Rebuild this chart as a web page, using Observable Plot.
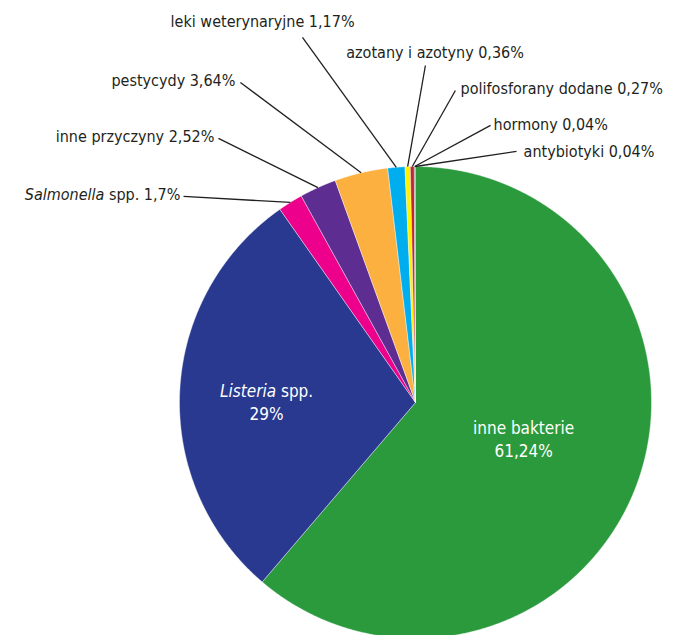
<!DOCTYPE html>
<html>
<head>
<meta charset="utf-8">
<script src="https://cdn.jsdelivr.net/npm/d3@7"></script>
<script src="https://cdn.jsdelivr.net/npm/@observablehq/plot@0.6"></script>
<style>
  html, body { margin: 0; padding: 0; background: #fff; }
  #chart svg { display: block; }
</style>
</head>
<body>
<div id="chart"></div>
<script>
// ---- data ----
const categories = ["inne bakterie", "Listeria spp.", "Salmonella spp.", "inne przyczyny", "pestycydy",
  "leki weterynaryjne", "azotany i azotyny", "polifosforany dodane", "hormony", "antybiotyki"];
const shares = [61.24, 29, 1.7, 2.52, 3.64, 1.17, 0.36, 0.27, 0.04, 0.04];
const valueLabels = ["61,24%", "29%", "1,7%", "2,52%", "3,64%", "1,17%", "0,36%", "0,27%", "0,04%", "0,04%"];
const labelTexts = ["inne bakterie\n61,24%", "*Listeria* spp.\n29%", "*Salmonella* spp. 1,7%", "inne przyczyny 2,52%",
  "pestycydy 3,64%", "leki weterynaryjne 1,17%", "azotany i azotyny 0,36%", "polifosforany dodane 0,27%",
  "hormony 0,04%", "antybiotyki 0,04%"];
const colors = ["#2b9a3d", "#28398f", "#ec008c", "#5d2d91", "#fbb040", "#00aeef", "#fff200", "#c1272d", "#231f20", "#231f20"];

// ---- layout (in pie-radius units, relative to the centre) ----
const W = 679, H = 635, CX = 415, CY = 402, R = 236;
const labelPos = [ // [textX, textY, anchor, lineX, lineY, inside]
  [0.458, -0.153, "middle", null, null, true],
  [-0.631, 0.004, "middle", null, null, true],
  [-0.996, 0.881, "end", -0.983, 0.873, false],
  [-0.852, 1.127, "end", -0.835, 1.119, false],
  [-0.763, 1.364, "end", -0.742, 1.356, false],
  [-0.648, 1.614, "middle", -0.479, 1.547, false],
  [0.083, 1.483, "middle", 0.042, 1.428, false],
  [0.191, 1.331, "start", 0.169, 1.322, false],
  [0.331, 1.178, "start", 0.318, 1.174, false],
  [0.458, 1.064, "start", 0.428, 1.064, false]
];

// ---- pie geometry from the values ----
const total = d3.sum(shares);
let acc = 0;
const slices = categories.map((c, i) => {
  const a0 = acc / total * 2 * Math.PI;
  acc += shares[i];
  const a1 = acc / total * 2 * Math.PI;
  return {name: c, a0, a1, mid: (a0 + a1) / 2};
});
const polyPts = [];
for (const s of slices) {
  polyPts.push({name: s.name, x: 0, y: 0});
  const n = Math.max(2, Math.ceil((s.a1 - s.a0) / (0.25 * Math.PI / 180)));
  for (let k = 0; k <= n; k++) {
    const a = s.a0 + (s.a1 - s.a0) * k / n;
    polyPts.push({name: s.name, x: Math.sin(a), y: Math.cos(a)});
  }
  polyPts.push({name: s.name, x: 0, y: 0});
}
const leaders = slices.map((s, i) => ({
  name: s.name, x1: labelPos[i][3], y1: labelPos[i][4], x2: Math.sin(s.mid), y2: Math.cos(s.mid), inside: labelPos[i][5]
})).filter(d => !d.inside);
const labels = slices.map((s, i) => ({
  text: labelTexts[i], x: labelPos[i][0], y: labelPos[i][1], anchor: labelPos[i][2], inside: labelPos[i][5]
}));

const font = "'Liberation Sans Narrow', 'DejaVu Sans Condensed', 'Roboto', sans-serif";

const chart = Plot.plot({
  width: W, height: H, margin: 0,
  x: {domain: [-CX / R, (W - CX) / R], axis: null},
  y: {domain: [(CY - H) / R, CY / R], axis: null},
  color: {domain: categories, range: colors},
  style: {fontFamily: font, fontSize: "16px", background: "#fff"},
  marks: [
    Plot.line(polyPts, {x: "x", y: "y", z: "name", fill: "name", stroke: "#fff", strokeWidth: 0.4, curve: "linear"}),
    Plot.link(leaders, {x1: "x1", y1: "y1", x2: "x2", y2: "y2", stroke: "#231f20", strokeWidth: 1.3}),
    ...["start", "middle", "end"].map(anc => Plot.text(labels.filter(d => d.anchor === anc && !d.inside), {
      x: "x", y: "y", text: "text", textAnchor: anc, lineAnchor: "middle",
      fill: "#231f20", fontSize: 16
    })),
    Plot.text(labels.filter(d => d.inside), {
      x: "x", y: "y", text: "text", textAnchor: "middle", lineAnchor: "middle", lineHeight: 1.35,
      fill: "#fff", fontSize: 17
    })
  ]
});

// italic parts marked with *...*
function italicize(root) {
  const walker = document.createTreeWalker(root, NodeFilter.SHOW_TEXT);
  const nodes = [];
  while (walker.nextNode()) if (walker.currentNode.nodeValue.includes("*")) nodes.push(walker.currentNode);
  for (const node of nodes) {
    const parts = node.nodeValue.split("*");
    const parent = node.parentNode;
    parts.forEach((p, i) => {
      if (!p) return;
      const t = document.createElementNS("http://www.w3.org/2000/svg", "tspan");
      t.textContent = p;
      if (i % 2 === 1) t.setAttribute("font-style", "italic");
      parent.insertBefore(t, node);
    });
    parent.removeChild(node);
  }
}
italicize(chart);
document.getElementById("chart").appendChild(chart);
</script>
</body>
</html>
